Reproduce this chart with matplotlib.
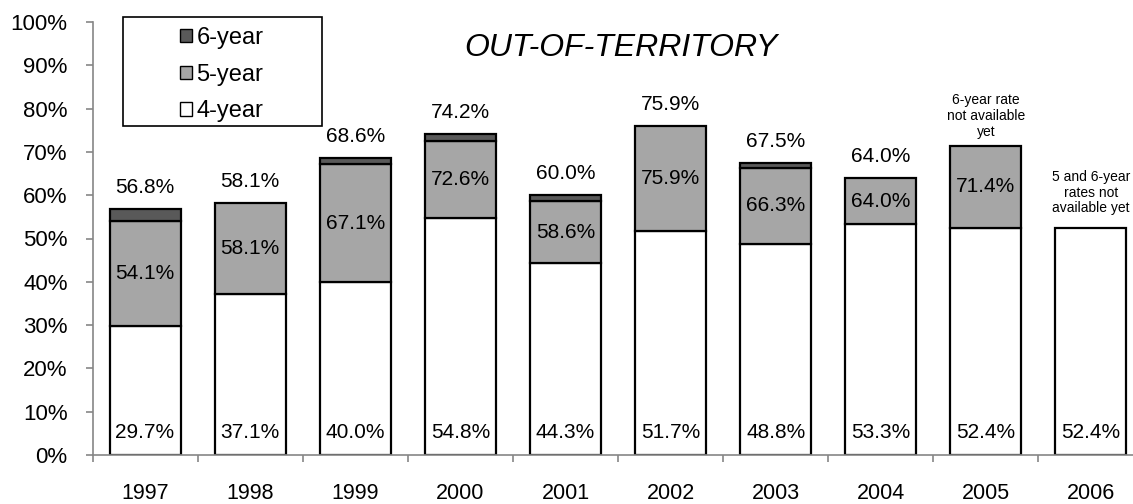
import numpy as np
import matplotlib
matplotlib.use("Agg")
import matplotlib.pyplot as plt
from matplotlib.patches import Patch, Rectangle

plt.rcParams['font.family'] = ['Liberation Sans', 'DejaVu Sans']

years = ['1997', '1998', '1999', '2000', '2001', '2002', '2003', '2004', '2005', '2006']
rate_4yr = [29.7, 37.1, 40.0, 54.8, 44.3, 51.7, 48.8, 53.3, 52.4, 52.4]
rate_5yr = [54.1, 58.1, 67.1, 72.6, 58.6, 75.9, 66.3, 64.0, 71.4, None]
rate_6yr = [56.8, 58.1, 68.6, 74.2, 60.0, 75.9, 67.5, 64.0, None, None]
notes = {'2005': '6-year rate\nnot available\nyet',
         '2006': '5 and 6-year\nrates not\navailable yet'}


def draw_chart():
    fig = plt.figure(figsize=(11.33, 5.04), dpi=100)
    W, H = 1133, 504
    ax = fig.add_axes([92.5 / W, 49 / H, 1051 / W, 433 / H])

    x = np.arange(len(years))
    width = 0.675
    edge = dict(edgecolor='black', linewidth=1.6)
    note_gap = {'2005': 6.9, '2006': 8.2}

    for i, yr in enumerate(years):
        r4, r5, r6 = rate_4yr[i], rate_5yr[i], rate_6yr[i]
        ax.bar(x[i], r4, width, color='white', **edge, zorder=2)
        top = r4
        if r5 is not None:
            ax.bar(x[i], r5 - r4, width, bottom=r4, color='#a6a6a6', **edge, zorder=2)
            top = r5
            ax.text(x[i], (r4 + r5) / 2, f'{r5:.1f}%', ha='center', va='center', fontsize=15)
        if r6 is not None and r6 > r5:
            ax.bar(x[i], r6 - r5, width, bottom=r5, color='#595959', **edge, zorder=2)
            top = r6
        if r6 is not None:
            ax.text(x[i], top + 5.0, f'{r6:.1f}%', ha='center', va='center', fontsize=15)
        ax.text(x[i], 5.3, f'{r4:.1f}%', ha='center', va='center', fontsize=15)
        if yr in notes:
            ax.text(x[i], top + note_gap[yr], notes[yr], ha='center', va='center',
                    fontsize=10, linespacing=1.15)

    ax.set_xlim(-0.5, len(years) - 0.5)
    ax.set_ylim(0, 100)
    ax.set_yticks(np.arange(0, 101, 10))
    ax.set_yticklabels([f'{v}%' for v in range(0, 101, 10)], fontsize=16)
    ax.set_xticks(x)
    ax.set_xticklabels(years, fontsize=15.5)
    ax.set_xticks(np.arange(-0.5, len(years), 1), minor=True)
    ax.tick_params(axis='x', which='major', length=0, pad=20)
    ax.tick_params(axis='x', which='minor', length=5, color='#868686', width=1.2)
    ax.tick_params(axis='y', length=5, color='#868686', width=1.2, pad=13)

    for s in ['top', 'right']:
        ax.spines[s].set_visible(False)
    for s in ['left', 'bottom']:
        ax.spines[s].set_color('#868686')
        ax.spines[s].set_linewidth(1.2)

    fig.text(621 / W, 1 - 48 / H, 'OUT-OF-TERRITORY', ha='center', va='center',
             fontsize=23, style='italic')

    # legend box drawn separately so it can be wider than its entries
    fig.patches.append(Rectangle((123 / W, 1 - 126 / H), 199 / W, 109 / H,
                                 transform=fig.transFigure, facecolor='white',
                                 edgecolor='black', linewidth=1.2, zorder=5))
    handles = [Patch(facecolor='#595959', edgecolor='black', label='6-year'),
               Patch(facecolor='#a6a6a6', edgecolor='black', label='5-year'),
               Patch(facecolor='white', edgecolor='black', label='4-year')]
    leg = fig.legend(handles=handles, loc='upper left', bbox_to_anchor=(180 / W, 1 - 27 / H),
                     fontsize=17, frameon=False, handlelength=0.5, handleheight=0.5,
                     handletextpad=0.2, borderpad=0, labelspacing=0.62, borderaxespad=0)
    leg.set_zorder(6)

    plt.savefig('out.png', dpi=100)


def main():
    draw_chart()


if __name__ == '__main__':
    main()
